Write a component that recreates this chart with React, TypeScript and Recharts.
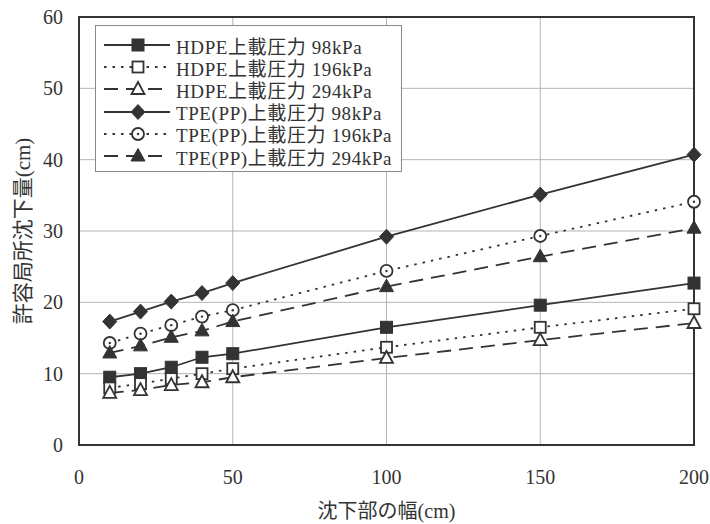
import React from 'react';
import { LineChart, Line, XAxis, YAxis, CartesianGrid, Legend, ReferenceArea } from 'recharts';

const widths = [10, 20, 30, 40, 50, 100, 150, 200];
const hdpe98 = [9.5, 10.0, 10.9, 12.3, 12.8, 16.5, 19.6, 22.7];
const hdpe196 = [8.0, 8.6, 9.3, 10.0, 10.7, 13.7, 16.5, 19.1];
const hdpe294 = [7.3, 7.7, 8.4, 8.8, 9.5, 12.2, 14.7, 17.1];
const tpe98 = [17.3, 18.7, 20.1, 21.3, 22.7, 29.2, 35.1, 40.7];
const tpe196 = [14.3, 15.6, 16.8, 18.0, 18.9, 24.4, 29.3, 34.1];
const tpe294 = [12.9, 13.9, 15.1, 16.0, 17.3, 22.2, 26.4, 30.4];

const xTicks = [0, 50, 100, 150, 200];
const yTicks = [0, 10, 20, 30, 40, 50, 60];

const seriesNames = [
  'HDPE上載圧力 98kPa',
  'HDPE上載圧力 196kPa',
  'HDPE上載圧力 294kPa',
  'TPE(PP)上載圧力 98kPa',
  'TPE(PP)上載圧力 196kPa',
  'TPE(PP)上載圧力 294kPa',
];

const data = widths.map((w, i) => ({
  w,
  h98: hdpe98[i],
  h196: hdpe196[i],
  h294: hdpe294[i],
  t98: tpe98[i],
  t196: tpe196[i],
  t294: tpe294[i],
}));

const INK = '#333333';
const FONT = "'Liberation Serif', 'Noto Sans CJK JP', serif";

type Shape = 'fsquare' | 'osquare' | 'otri' | 'fdiamond' | 'ocircle' | 'ftri';

function Marker({ shape, cx, cy }: { shape: Shape; cx: number; cy: number }) {
  const s = 6;
  switch (shape) {
    case 'fsquare':
      return <rect x={cx - s} y={cy - s} width={2 * s} height={2 * s} fill={INK} stroke={INK} />;
    case 'osquare':
      return <rect x={cx - 5.5} y={cy - 5.5} width={11} height={11} fill="#fff" stroke={INK} strokeWidth={1.8} />;
    case 'otri':
      return <polygon points={`${cx},${cy - 7} ${cx + 6.5},${cy + 5} ${cx - 6.5},${cy + 5}`} fill="#fff" stroke={INK} strokeWidth={1.8} />;
    case 'fdiamond':
      return <polygon points={`${cx},${cy - 7.5} ${cx + 7},${cy} ${cx},${cy + 7.5} ${cx - 7},${cy}`} fill={INK} stroke={INK} />;
    case 'ocircle':
      return (
        <g>
          <circle cx={cx} cy={cy} r={6} fill="#fff" stroke={INK} strokeWidth={1.8} />
          <circle cx={cx} cy={cy} r={1.2} fill={INK} />
        </g>
      );
    case 'ftri':
      return <polygon points={`${cx},${cy - 7.5} ${cx + 7},${cy + 5} ${cx - 7},${cy + 5}`} fill={INK} stroke={INK} />;
  }
  return null;
}

const makeDot = (shape: Shape) => (props: any) => {
  const { cx, cy, index } = props;
  if (cx == null || cy == null) return <g key={index} />;
  return <Marker key={index} shape={shape} cx={cx} cy={cy} />;
};

const DOTTED = '2.5 6';
const DASHED = '14 8';

const seriesDefs: { key: string; shape: Shape; dash?: string }[] = [
  { key: 'h98', shape: 'fsquare' },
  { key: 'h196', shape: 'osquare', dash: DOTTED },
  { key: 'h294', shape: 'otri', dash: DASHED },
  { key: 't98', shape: 'fdiamond' },
  { key: 't196', shape: 'ocircle', dash: DOTTED },
  { key: 't294', shape: 'ftri', dash: DASHED },
];

function LegendBox() {
  return (
    <div
      style={{
        border: '1px solid #888',
        background: '#fff',
        padding: '8px 0 6px 6px',
        fontFamily: FONT,
        fontSize: 19,
        color: INK,
        boxSizing: 'border-box',
        width: 307,
        height: 147,
      }}
    >
      {seriesDefs.map((s, i) => (
        <div key={s.key} style={{ display: 'flex', alignItems: 'center', height: 22.2 }}>
          <svg width={70} height={20} style={{ flex: 'none' }}>
            <line x1={2} y1={10} x2={68} y2={10} stroke={INK} strokeWidth={2} strokeDasharray={s.dash} />
            <Marker shape={s.shape} cx={36} cy={10} />
          </svg>
          <span style={{ marginLeft: 4, whiteSpace: 'nowrap', letterSpacing: 0.6 }}>{seriesNames[i]}</span>
        </div>
      ))}
    </div>
  );
}

export default function App() {
  return (
    <div style={{ position: 'absolute', left: 0, top: 0 }}>
      <LineChart width={710} height={524} data={data} margin={{ top: 17, right: 16, left: 0, bottom: 0 }}>
        <CartesianGrid stroke="#b5b5b5" strokeWidth={1} />
        <XAxis
          dataKey="w"
          type="number"
          domain={[0, 200]}
          ticks={xTicks}
          height={79}
          tickSize={0}
          tickMargin={25}
          axisLine={{ stroke: INK, strokeWidth: 2 }}
          tick={{ fill: INK, fontSize: 20, fontFamily: FONT }}
          label={{ value: '沈下部の幅(cm)', position: 'center', dy: 26, fill: INK, fontSize: 20, fontFamily: FONT }}
        />
        <YAxis
          type="number"
          domain={[0, 60]}
          ticks={yTicks}
          width={79}
          tickSize={0}
          tickMargin={16}
          axisLine={{ stroke: INK, strokeWidth: 2 }}
          tick={{ fill: INK, fontSize: 20, fontFamily: FONT }}
          label={{ value: '許容局所沈下量(cm)', angle: -90, position: 'center', dx: -17, fill: INK, fontSize: 21, fontFamily: FONT }}
        />
        <ReferenceArea x1={0} x2={200} y1={0} y2={60} fill="none" fillOpacity={0} stroke={INK} strokeWidth={2} />
        {seriesDefs.map((s, i) => (
          <Line
            key={s.key}
            dataKey={s.key}
            name={seriesNames[i]}
            stroke={INK}
            strokeWidth={1.8}
            strokeDasharray={s.dash}
            dot={makeDot(s.shape)}
            activeDot={false}
            isAnimationActive={false}
          />
        ))}
        <Legend
          layout="vertical"
          align="center"
          verticalAlign="middle"
          content={() => <LegendBox />}
          wrapperStyle={{ top: 25, left: 95, width: 307, height: 147 }}
        />
      </LineChart>
    </div>
  );
}
